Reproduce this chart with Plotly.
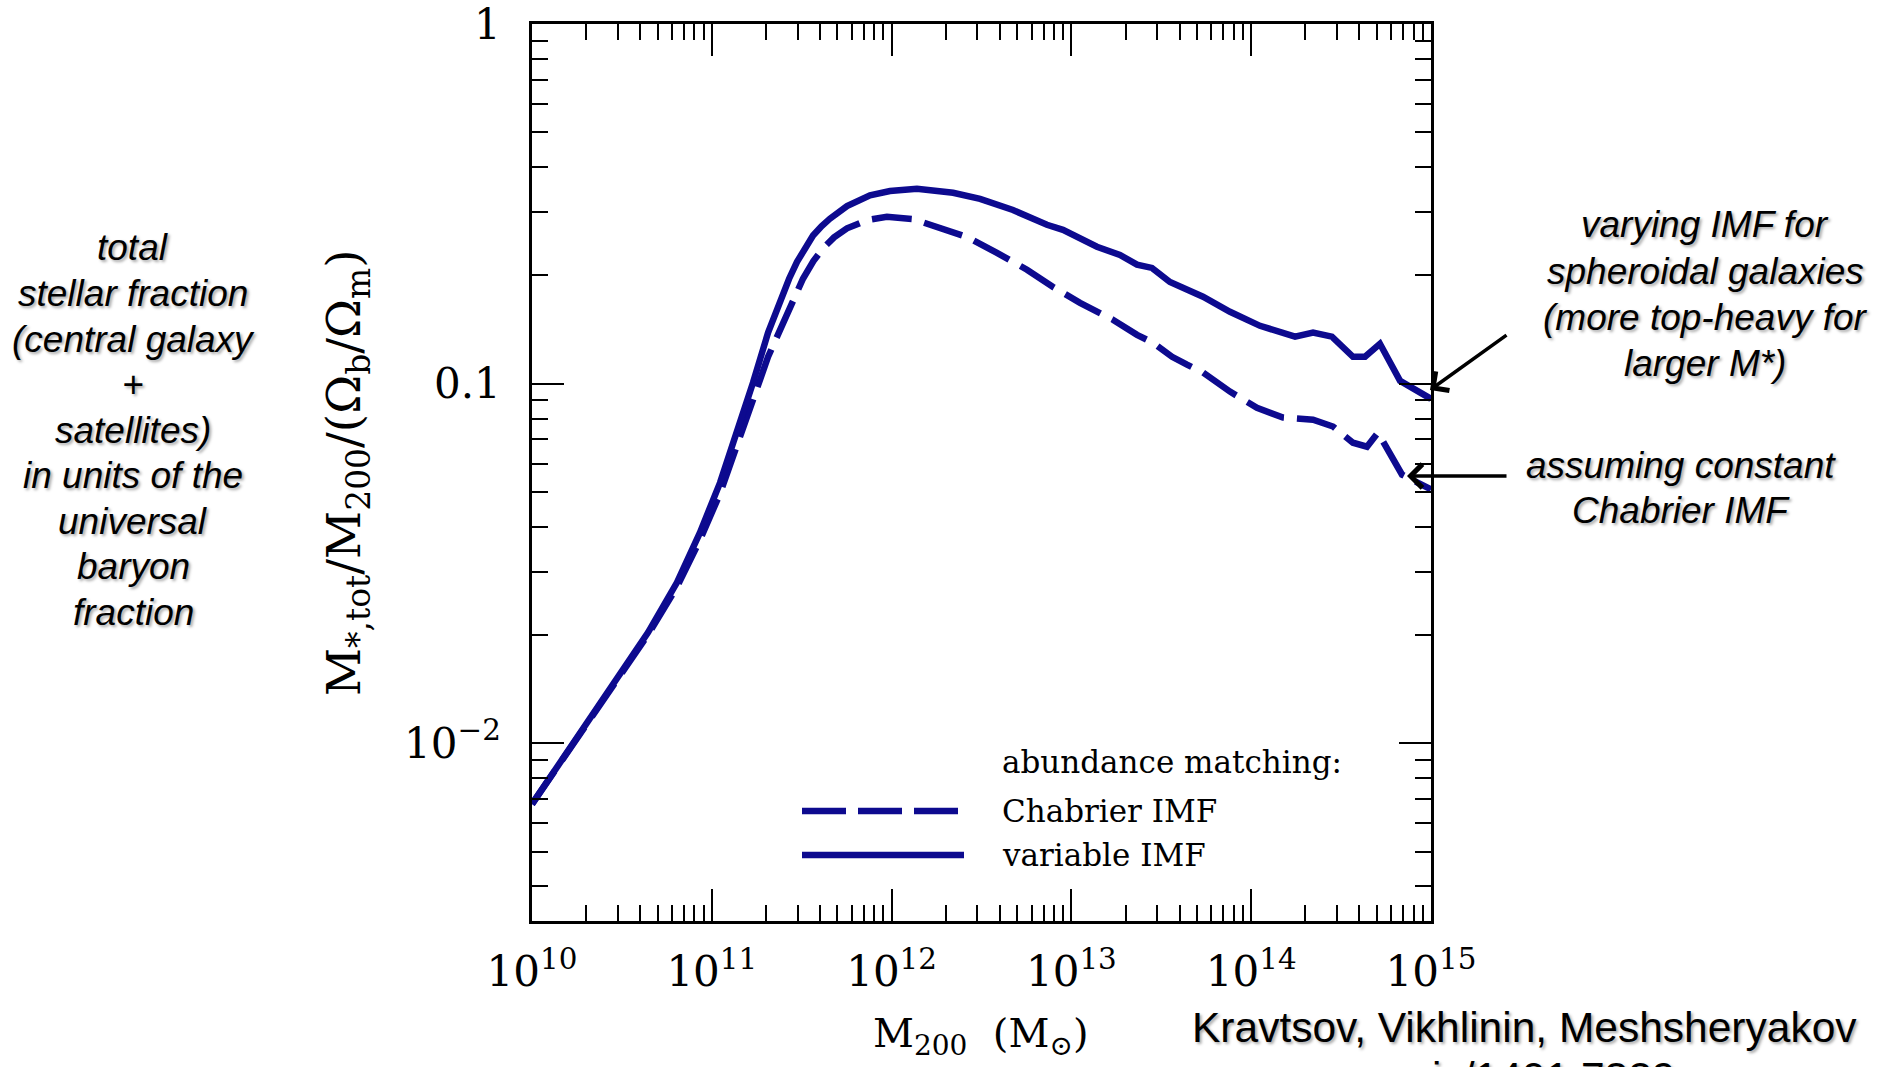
import plotly.graph_objects as go

# ---------------- data ----------------
# log10 of M200 [Msun] and log10 of M*,tot/M200/(Ob/Om)
log_m200_variable = [10.0, 10.1, 10.211, 10.462, 10.645, 10.806, 10.934, 11.046, 11.140, 11.229,
                     11.313, 11.379, 11.43, 11.474, 11.52, 11.563, 11.61, 11.657, 11.752, 11.880,
                     11.991, 12.141, 12.342, 12.492, 12.675, 12.864, 12.953, 13.142, 13.270,
                     13.365, 13.448, 13.548, 13.732, 13.882, 14.049, 14.244, 14.344, 14.449,
                     14.566, 14.633, 14.716, 14.828, 15.0]
log_frac_variable = [-2.169, -2.095, -2.015, -1.831, -1.692, -1.553, -1.414, -1.275, -1.136, -0.997,
                     -0.858, -0.767, -0.708, -0.661, -0.620, -0.588, -0.562, -0.541, -0.506, -0.476,
                     -0.464, -0.458, -0.469, -0.486, -0.517, -0.558, -0.572, -0.619, -0.642,
                     -0.669, -0.678, -0.717, -0.758, -0.800, -0.839, -0.869, -0.858, -0.869,
                     -0.925, -0.925, -0.889, -0.992, -1.042]

log_m200_chabrier = [10.0, 10.1, 10.211, 10.462, 10.645, 10.806, 10.934, 11.046, 11.140, 11.229,
                     11.313, 11.379, 11.435, 11.507, 11.565, 11.618, 11.68, 11.752, 11.863, 11.974,
                     12.119, 12.269, 12.419, 12.586, 12.753, 12.898, 13.048, 13.231, 13.365,
                     13.454, 13.560, 13.643, 13.732, 13.882, 14.032, 14.177, 14.344, 14.455,
                     14.566, 14.644, 14.705, 14.839, 15.0]
log_frac_chabrier = [-2.169, -2.095, -2.015, -1.833, -1.698, -1.565, -1.435, -1.305, -1.176, -1.045,
                     -0.925, -0.848, -0.783, -0.708, -0.659, -0.624, -0.593, -0.568, -0.545, -0.536,
                     -0.542, -0.567, -0.592, -0.636, -0.683, -0.731, -0.775, -0.822, -0.864,
                     -0.886, -0.925, -0.947, -0.969, -1.022, -1.067, -1.094, -1.100, -1.119,
                     -1.164, -1.175, -1.136, -1.253, -1.294]

x_tickvals = [1e10, 1e11, 1e12, 1e13, 1e14, 1e15]
x_ticktext = ["10<sup>10</sup>", "10<sup>11</sup>", "10<sup>12</sup>",
              "10<sup>13</sup>", "10<sup>14</sup>", "10<sup>15</sup>"]
y_tickvals = [0.01, 0.1, 1.0]
y_ticktext = ["10<sup>−2</sup>", "0.1", "1"]

legend_title = "abundance matching:"
series_names = ["Chabrier IMF", "variable IMF"]

left_note = ["total", "stellar fraction", "(central galaxy", "+", "satellites)",
             "in units of the", "universal", "baryon", "fraction"]
top_note = ["varying IMF for", "spheroidal galaxies", "(more top-heavy for", "larger M*)"]
low_note = ["assuming constant", "Chabrier IMF"]
credit = ["Kravtsov, Vikhlinin, Meshsheryakov", "arxiv/1401.7329"]

# ---------------- styling ----------------
W, H = 1879, 1067
L, R, T, B = 532, 1431, 24, 921
BLUE = "#0d0a8f"
SERIF = "DejaVu Serif"
SANS = "Liberation Sans, Arial"
SHADOW = "2px 2px 3px rgba(0,0,0,0.35)"


def px(xp):
    return (xp - L) / (R - L)


def py(yp):
    return (B - yp) / (B - T)


x_minor = [k * 10 ** e for e in range(10, 15) for k in range(2, 10)]
y_minor = [k * 10.0 ** e for e in range(-3, 0) for k in range(2, 10) if k * 10.0 ** e > 10 ** -2.494]

fig = go.Figure()
fig.add_trace(go.Scatter(
    x=[10 ** v for v in log_m200_chabrier], y=[10 ** v for v in log_frac_chabrier],
    mode="lines", name=series_names[0],
    line=dict(color=BLUE, width=6.5, dash="40px,13px"), showlegend=False))
fig.add_trace(go.Scatter(
    x=[10 ** v for v in log_m200_variable], y=[10 ** v for v in log_frac_variable],
    mode="lines", name=series_names[1],
    line=dict(color=BLUE, width=6.5), showlegend=False))

axis_common = dict(
    type="log", showgrid=False, zeroline=False, automargin=False,
    showline=True, linecolor="black", linewidth=2.5, mirror="allticks",
    ticks="inside", ticklen=32, tickwidth=2, tickcolor="black",
    ticklabeloverflow="allow",
    tickfont=dict(family=SERIF, size=42, color="black"),
)

fig.update_xaxes(
    **axis_common, range=[10, 15], tickmode="array",
    tickvals=x_tickvals, ticktext=x_ticktext, ticklabelstandoff=12,
    minor=dict(tickmode="array", tickvals=x_minor, ticks="inside", ticklen=16,
               tickwidth=2, tickcolor="black", showgrid=False),
)
fig.update_yaxes(
    **axis_common, range=[-2.494, 0.0003], tickmode="array",
    tickvals=y_tickvals, ticktext=y_ticktext, ticklabelstandoff=20,
    minor=dict(tickmode="array", tickvals=y_minor, ticks="inside", ticklen=16,
               tickwidth=2, tickcolor="black", showgrid=False),
)

annotations = []
# axis titles
annotations.append(dict(
    text="M<sub>*,tot</sub>/M<sub>200</sub>/(Ω<sub>b</sub>/Ω<sub>m</sub>)",
    x=px(347), y=py(473), xref="paper", yref="paper", textangle=-90,
    xanchor="center", yanchor="middle", showarrow=False,
    font=dict(family=SERIF, size=47, color="black")))
annotations.append(dict(
    text="M<sub>200</sub>  (M<sub>⊙</sub>)",
    x=px(981), y=py(1036), xref="paper", yref="paper",
    xanchor="center", yanchor="middle", showarrow=False,
    font=dict(family=SERIF, size=40, color="black")))

# legend drawn by hand
for label, yy in zip([legend_title] + series_names, [762, 811, 855]):
    annotations.append(dict(text=label, x=px(1000), y=py(yy), xref="paper", yref="paper",
                            xanchor="left", yanchor="middle", showarrow=False,
                            font=dict(family=SERIF, size=31, color="black")))

shapes = [
    dict(type="line", xref="paper", yref="paper", x0=px(802), x1=px(958), y0=py(811), y1=py(811),
         line=dict(color=BLUE, width=6.5, dash="44px,12px")),
    dict(type="line", xref="paper", yref="paper", x0=px(802), x1=px(964), y0=py(855), y1=py(855),
         line=dict(color=BLUE, width=6.5)),
]

# side texts, one annotation per line for exact line spacing
italic = dict(family=SANS, size=37, color="black", style="italic", shadow=SHADOW)


def text_block(lines, xc, y_first, step, font):
    for i, line in enumerate(lines):
        annotations.append(dict(
            text=line, x=px(xc), y=py(y_first + i * step), xref="paper", yref="paper",
            xanchor="center", yanchor="middle", showarrow=False, font=font))


text_block(left_note, 133, 248, 45.5, italic)
text_block(top_note, 1705, 225, 46, italic)
text_block(low_note, 1681, 465, 45, italic)
text_block(credit, 1524, 1027, 50, dict(family=SANS, size=42.5, color="black", shadow=SHADOW))

# arrows
annotations.append(dict(text="", x=px(1430), y=py(390), xref="paper", yref="paper",
                        ax=78, ay=-56, showarrow=True, arrowhead=4, arrowsize=1.3,
                        arrowwidth=3.5, arrowcolor="black"))
annotations.append(dict(text="", x=px(1407), y=py(476), xref="paper", yref="paper",
                        ax=101, ay=0, showarrow=True, arrowhead=4, arrowsize=1.3,
                        arrowwidth=3.5, arrowcolor="black"))

fig.update_layout(
    width=W, height=H, autosize=False,
    margin=dict(l=L, r=W - R, t=T, b=H - B, pad=0, autoexpand=False),
    paper_bgcolor="white", plot_bgcolor="white",
    showlegend=False, annotations=annotations, shapes=shapes,
)

fig.write_html("out.html")
